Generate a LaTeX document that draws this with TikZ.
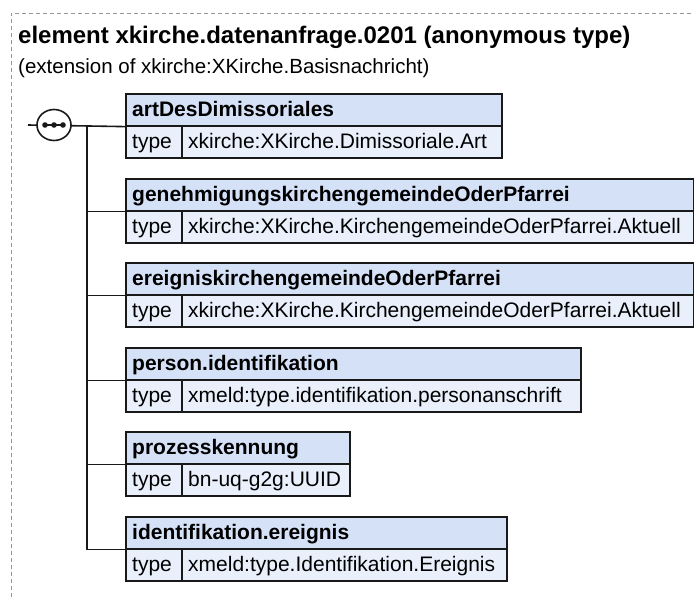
\documentclass[tikz,border=0pt]{standalone}
\usepackage{fontspec}
\setmainfont{Liberation Sans}
\usetikzlibrary{shapes.geometric}
\definecolor{hdrblue}{RGB}{213,225,247}
\definecolor{rowblue}{RGB}{233,240,251}
\definecolor{edge}{RGB}{25,25,25}
\definecolor{frame}{RGB}{150,150,150}
\tikzset{
  hdr/.style={draw=edge, fill=hdrblue, line width=1.6pt, rectangle, anchor=north west, minimum height=32, inner sep=0pt},
  typecell/.style={draw=edge, fill=rowblue, line width=1.6pt, rectangle, anchor=north west, minimum width=56, minimum height=32, inner sep=0pt},
  valcell/.style={draw=edge, fill=rowblue, line width=1.6pt, rectangle, anchor=north west, minimum height=32, inner sep=0pt},
  hdrtext/.style={anchor=base west, inner sep=0pt, font=\bfseries\fontsize{21}{25}\selectfont},
  rowtext/.style={anchor=base west, inner sep=0pt, font=\fontsize{21}{25}\selectfont},
  conn/.style={draw=edge, line width=1.6pt},
  shadowbox/.style={fill=black!20, draw=none, rectangle, anchor=north west, inner sep=0pt}
}
\newcommand\elbox[5]{% name, top, right, title, type
  \node[shadowbox, minimum width={#3-125}, minimum height=64] (#1s) at (126.5,#2+1.5) {};
  \node[hdr, minimum width={#3-125}] (#1h) at (125,#2) {};
  \node[hdrtext] (#1t) at (132,#2+23) {#4};
  \node[typecell] (#1k) at (125,#2+32) {};
  \node[rowtext] (#1kt) at (132,#2+55) {type};
  \node[valcell, minimum width={#3-181}] (#1v) at (181,#2+32) {};
  \node[rowtext] (#1vt) at (188,#2+55) {#5};
}
\begin{document}
\begin{tikzpicture}[x=1pt,y=-1pt]
\useasboundingbox (0,0) rectangle (694,597);
\draw[frame, line width=1pt, dash pattern=on 4pt off 3pt] (11,597) -- (11,13) -- (694,13);
\node[anchor=base west, inner sep=0pt, font=\bfseries\fontsize{24}{28}\selectfont] (title) at (18,43) {element xkirche.datenanfrage.0201 (anonymous type)};
\node[anchor=base west, inner sep=0pt, font=\fontsize{20.5}{24}\selectfont] (subtitle) at (18,73) {(extension of xkirche:XKirche.Basisnachricht)};

\elbox{a}{93}{501}{artDesDimissoriales}{xkirche:XKirche.Dimissoriale.Art}
\elbox{b}{178}{693}{genehmigungskirchengemeindeOderPfarrei}{xkirche:XKirche.KirchengemeindeOderPfarrei.Aktuell}
\elbox{c}{262}{693}{ereigniskirchengemeindeOderPfarrei}{xkirche:XKirche.KirchengemeindeOderPfarrei.Aktuell}
\elbox{d}{347}{580}{person.identifikation}{xmeld:type.identifikation.personanschrift}
\elbox{e}{431}{349}{prozesskennung}{bn-uq-g2g:UUID}
\elbox{f}{516}{506}{identifikation.ereignis}{xmeld:type.Identifikation.Ereignis}

\coordinate (stub) at (28,125);
\coordinate (trunk) at (87,125);
\draw[conn] (stub) -- (ah.south west);
\draw[conn] (trunk) |- (fh.south west);
\draw[conn] (trunk |- bh.south west) -- (bh.south west);
\draw[conn] (trunk |- ch.south west) -- (ch.south west);
\draw[conn] (trunk |- dh.south west) -- (dh.south west);
\draw[conn] (trunk |- eh.south west) -- (eh.south west);
\node[draw=edge, fill=white, line width=1.6pt, ellipse, minimum width=34, minimum height=31, inner sep=0pt] (seq) at (54,125) {};
\draw[edge, line width=1.6pt] ([xshift=-9pt]seq.center) -- ([xshift=9pt]seq.center);
\fill[edge] ([xshift=-9pt]seq.center) circle (2.8);
\fill[edge] (seq.center) circle (2.8);
\fill[edge] ([xshift=9pt]seq.center) circle (2.8);
\end{tikzpicture}
\end{document}
